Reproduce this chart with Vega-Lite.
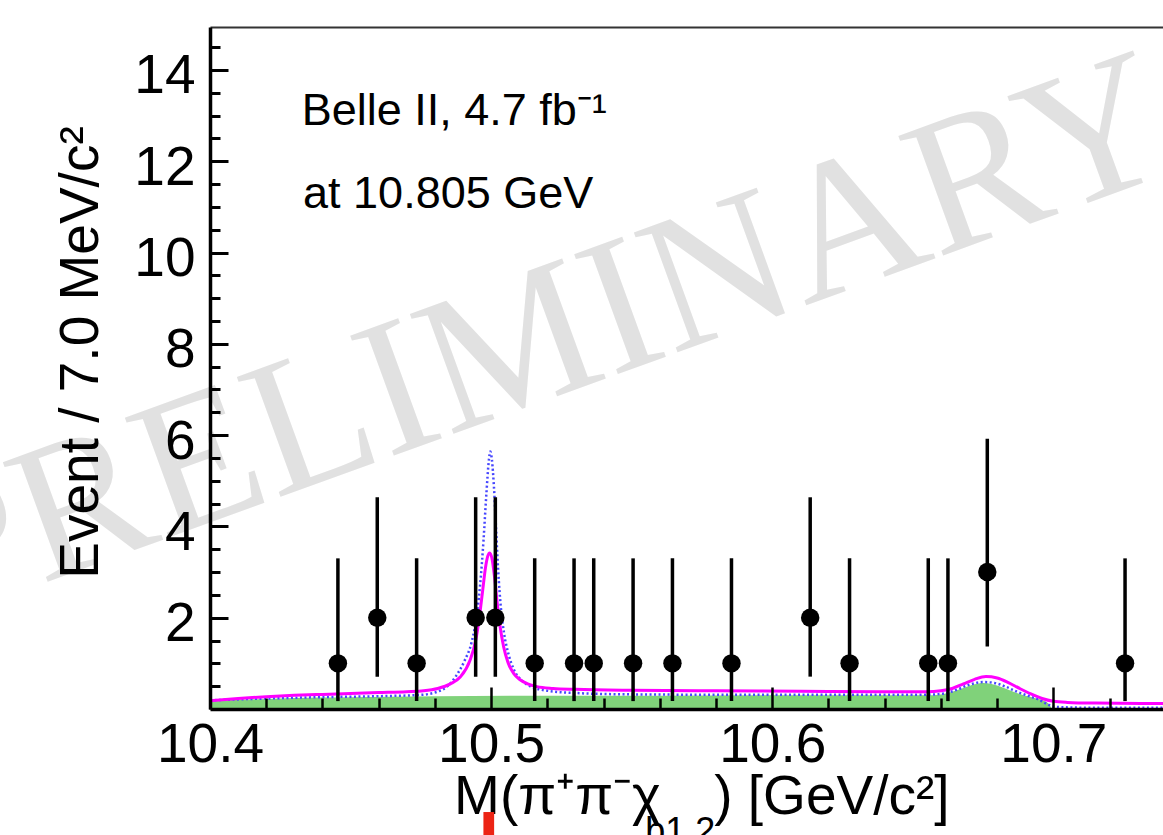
{
  "$schema": "https://vega.github.io/schema/vega-lite/v6.json",
  "width": 953,
  "height": 682,
  "autosize": {"type": "none"},
  "padding": {"left": 210, "top": 27, "right": 0, "bottom": 126},
  "background": "white",
  "config": {"view": {"stroke": null}, "font": "Liberation Sans"},
  "datasets": {
    "points": [
      {"m": 10.4455, "n": 1, "lo": 0.173, "hi": 3.300},
      {"m": 10.4595, "n": 2, "lo": 0.709, "hi": 4.638},
      {"m": 10.4735, "n": 1, "lo": 0.173, "hi": 3.300},
      {"m": 10.4945, "n": 2, "lo": 0.709, "hi": 4.638},
      {"m": 10.5015, "n": 2, "lo": 0.709, "hi": 4.638},
      {"m": 10.5155, "n": 1, "lo": 0.173, "hi": 3.300},
      {"m": 10.5295, "n": 1, "lo": 0.173, "hi": 3.300},
      {"m": 10.5365, "n": 1, "lo": 0.173, "hi": 3.300},
      {"m": 10.5505, "n": 1, "lo": 0.173, "hi": 3.300},
      {"m": 10.5645, "n": 1, "lo": 0.173, "hi": 3.300},
      {"m": 10.5855, "n": 1, "lo": 0.173, "hi": 3.300},
      {"m": 10.6135, "n": 2, "lo": 0.709, "hi": 4.638},
      {"m": 10.6275, "n": 1, "lo": 0.173, "hi": 3.300},
      {"m": 10.6555, "n": 1, "lo": 0.173, "hi": 3.300},
      {"m": 10.6625, "n": 1, "lo": 0.173, "hi": 3.300},
      {"m": 10.6765, "n": 3, "lo": 1.367, "hi": 5.918},
      {"m": 10.7255, "n": 1, "lo": 0.173, "hi": 3.300}
    ],
    "bkg": [
      {"m": 10.400, "v": 0.18}, {"m": 10.410, "v": 0.20}, {"m": 10.420, "v": 0.22},
      {"m": 10.430, "v": 0.24}, {"m": 10.440, "v": 0.25}, {"m": 10.450, "v": 0.26},
      {"m": 10.465, "v": 0.27}, {"m": 10.480, "v": 0.28}, {"m": 10.520, "v": 0.29},
      {"m": 10.560, "v": 0.29}, {"m": 10.600, "v": 0.30}, {"m": 10.640, "v": 0.30},
      {"m": 10.655, "v": 0.30}, {"m": 10.660, "v": 0.32}, {"m": 10.664, "v": 0.38},
      {"m": 10.668, "v": 0.46}, {"m": 10.672, "v": 0.54}, {"m": 10.675, "v": 0.57},
      {"m": 10.678, "v": 0.55}, {"m": 10.682, "v": 0.47}, {"m": 10.686, "v": 0.37},
      {"m": 10.690, "v": 0.29}, {"m": 10.694, "v": 0.23}, {"m": 10.697, "v": 0.17},
      {"m": 10.6985, "v": 0.10}, {"m": 10.6995, "v": 0.0}
    ],
    "alt": [
      {"m": 10.400, "v": 0.19}, {"m": 10.420, "v": 0.23}, {"m": 10.440, "v": 0.26},
      {"m": 10.460, "v": 0.28}, {"m": 10.475, "v": 0.31}, {"m": 10.481, "v": 0.38},
      {"m": 10.4845, "v": 0.50}, {"m": 10.4875, "v": 0.72}, {"m": 10.4905, "v": 1.05},
      {"m": 10.4930, "v": 1.45}, {"m": 10.4950, "v": 2.10}, {"m": 10.4962, "v": 2.80},
      {"m": 10.4973, "v": 3.70}, {"m": 10.4983, "v": 4.70}, {"m": 10.4992, "v": 5.45},
      {"m": 10.4997, "v": 5.64}, {"m": 10.5003, "v": 5.45}, {"m": 10.5010, "v": 4.87},
      {"m": 10.5018, "v": 3.90}, {"m": 10.5025, "v": 3.05}, {"m": 10.5035, "v": 2.20},
      {"m": 10.5046, "v": 1.66}, {"m": 10.5062, "v": 1.20}, {"m": 10.5082, "v": 0.85},
      {"m": 10.5110, "v": 0.62}, {"m": 10.5142, "v": 0.49}, {"m": 10.5200, "v": 0.40},
      {"m": 10.530, "v": 0.35}, {"m": 10.550, "v": 0.32}, {"m": 10.600, "v": 0.31},
      {"m": 10.650, "v": 0.31}, {"m": 10.658, "v": 0.32}, {"m": 10.662, "v": 0.35},
      {"m": 10.666, "v": 0.43}, {"m": 10.670, "v": 0.53}, {"m": 10.675, "v": 0.59},
      {"m": 10.679, "v": 0.57}, {"m": 10.683, "v": 0.49}, {"m": 10.687, "v": 0.38},
      {"m": 10.691, "v": 0.29}, {"m": 10.695, "v": 0.20}, {"m": 10.698, "v": 0.10},
      {"m": 10.700, "v": 0.05}, {"m": 10.710, "v": 0.03}, {"m": 10.739, "v": 0.03}
    ],
    "total": [
      {"m": 10.400, "v": 0.18}, {"m": 10.410, "v": 0.23}, {"m": 10.420, "v": 0.27},
      {"m": 10.430, "v": 0.30}, {"m": 10.440, "v": 0.32}, {"m": 10.450, "v": 0.34},
      {"m": 10.460, "v": 0.36}, {"m": 10.470, "v": 0.38}, {"m": 10.476, "v": 0.40},
      {"m": 10.481, "v": 0.45}, {"m": 10.4855, "v": 0.55}, {"m": 10.4890, "v": 0.70},
      {"m": 10.4925, "v": 1.07}, {"m": 10.4945, "v": 1.50}, {"m": 10.4958, "v": 2.00},
      {"m": 10.4970, "v": 2.60}, {"m": 10.4980, "v": 3.10}, {"m": 10.4988, "v": 3.35},
      {"m": 10.4995, "v": 3.42}, {"m": 10.5003, "v": 3.30}, {"m": 10.5012, "v": 2.90},
      {"m": 10.5022, "v": 2.30}, {"m": 10.5032, "v": 1.80}, {"m": 10.5045, "v": 1.35},
      {"m": 10.5060, "v": 1.02}, {"m": 10.5080, "v": 0.78}, {"m": 10.5103, "v": 0.64},
      {"m": 10.5130, "v": 0.55}, {"m": 10.5163, "v": 0.49}, {"m": 10.522, "v": 0.45},
      {"m": 10.530, "v": 0.43}, {"m": 10.550, "v": 0.41}, {"m": 10.580, "v": 0.40},
      {"m": 10.610, "v": 0.39}, {"m": 10.640, "v": 0.38}, {"m": 10.655, "v": 0.38},
      {"m": 10.660, "v": 0.40}, {"m": 10.664, "v": 0.45}, {"m": 10.668, "v": 0.55},
      {"m": 10.672, "v": 0.65}, {"m": 10.676, "v": 0.71}, {"m": 10.680, "v": 0.68},
      {"m": 10.684, "v": 0.58}, {"m": 10.688, "v": 0.45}, {"m": 10.692, "v": 0.33},
      {"m": 10.696, "v": 0.23}, {"m": 10.700, "v": 0.17}, {"m": 10.705, "v": 0.145},
      {"m": 10.715, "v": 0.13}, {"m": 10.739, "v": 0.12}
    ]
  },
  "resolve": {"axis": {"x": "independent", "y": "independent"}},
  "layer": [
    {
      "data": {"values": [{}]},
      "mark": {"type": "text", "text": "PRELIMINARY", "font": "Liberation Serif", "fontSize": 195, "color": "#e1e1e1", "angle": -20, "align": "center", "baseline": "alphabetic"},
      "encoding": {
        "x": {"datum": 10.5246, "type": "quantitative", "scale": {"domain": [10.4, 10.739], "nice": false, "zero": false}, "axis": null},
        "y": {"datum": 6.88, "type": "quantitative", "scale": {"domain": [0, 14.94], "nice": false, "zero": false}, "axis": null}
      }
    },
    {
      "data": {"name": "bkg"},
      "mark": {"type": "area", "color": "#80d27a", "interpolate": "monotone"},
      "encoding": {
        "x": {"field": "m", "type": "quantitative", "scale": {"domain": [10.4, 10.739], "nice": false, "zero": false},
          "axis": {"orient": "bottom", "values": [10.4, 10.5, 10.6, 10.7], "format": ".1f", "ticks": false, "domain": true, "domainColor": "black", "domainWidth": 3.5, "labelFont": "Liberation Sans", "labelFontSize": 55, "labelColor": "black", "labelPadding": 9, "labelFlush": false, "labelOverlap": false, "labelBound": false, "title": null, "grid": false, "zindex": 1}},
        "y": {"field": "v", "type": "quantitative", "stack": null, "scale": {"domain": [0, 14.94], "nice": false, "zero": false},
          "axis": {"orient": "left", "values": [2, 4, 6, 8, 10, 12, 14], "format": "d", "ticks": false, "domain": true, "domainColor": "black", "domainWidth": 3.5, "labelFont": "Liberation Sans", "labelFontSize": 55, "labelColor": "black", "labelPadding": 15, "labelBaseline": "middle", "labelOffset": 6, "labelOverlap": false, "labelFlush": false, "grid": false, "zindex": 1,
            "title": "Event / 7.0 MeV/c²", "titleFont": "Liberation Sans", "titleFontSize": 55, "titleFontWeight": "normal", "titleColor": "black", "titleAngle": -90, "titleX": -113, "titleY": 325, "titleAlign": "center", "titleBaseline": "alphabetic"}}
      }
    },
    {
      "data": {"name": "alt"},
      "mark": {"type": "line", "color": "#4646ff", "strokeWidth": 2.5, "strokeDash": [2, 2.5], "interpolate": "monotone"},
      "encoding": {
        "x": {"field": "m", "type": "quantitative", "scale": {"domain": [10.4, 10.739], "nice": false, "zero": false},
          "axis": {"orient": "bottom", "values": [10.4, 10.5, 10.6, 10.7], "labels": false, "domain": false, "ticks": true, "tickSize": -22, "tickWidth": 2.5, "tickColor": "black", "title": null, "grid": false, "zindex": 1}},
        "y": {"field": "v", "type": "quantitative", "scale": {"domain": [0, 14.94], "nice": false, "zero": false},
          "axis": {"orient": "left", "values": [2, 4, 6, 8, 10, 12, 14], "labels": false, "domain": false, "ticks": true, "tickSize": -18, "tickWidth": 3, "tickColor": "black", "title": null, "grid": false, "zindex": 1}}
      }
    },
    {
      "data": {"name": "total"},
      "mark": {"type": "line", "color": "#ff00ff", "strokeWidth": 3, "interpolate": "monotone"},
      "encoding": {
        "x": {"field": "m", "type": "quantitative", "scale": {"domain": [10.4, 10.739], "nice": false, "zero": false},
          "axis": {"orient": "bottom", "values": [10.42, 10.44, 10.46, 10.48, 10.52, 10.54, 10.56, 10.58, 10.62, 10.64, 10.66, 10.68, 10.72], "labels": false, "domain": false, "ticks": true, "tickSize": -11, "tickWidth": 2.5, "tickColor": "black", "title": null, "grid": false, "zindex": 1}},
        "y": {"field": "v", "type": "quantitative", "scale": {"domain": [0, 14.94], "nice": false, "zero": false},
          "axis": {"orient": "left", "values": [0.5, 1, 1.5, 2.5, 3, 3.5, 4.5, 5, 5.5, 6.5, 7, 7.5, 8.5, 9, 9.5, 10.5, 11, 11.5, 12.5, 13, 13.5, 14.5], "labels": false, "domain": false, "ticks": true, "tickSize": -10, "tickWidth": 3, "tickColor": "black", "title": null, "grid": false, "zindex": 1}}
      }
    },
    {
      "data": {"name": "points"},
      "mark": {"type": "rule", "color": "black", "strokeWidth": 3.5},
      "encoding": {
        "x": {"field": "m", "type": "quantitative", "scale": {"domain": [10.4, 10.739], "nice": false, "zero": false},
          "axis": {"orient": "top", "domain": true, "domainColor": "#333333", "domainWidth": 2, "ticks": false, "labels": false, "title": null, "grid": false, "zindex": 1}},
        "y": {"field": "lo", "type": "quantitative", "scale": {"domain": [0, 14.94], "nice": false, "zero": false}, "axis": null},
        "y2": {"field": "hi"}
      }
    },
    {
      "data": {"name": "points"},
      "mark": {"type": "point", "shape": "circle", "filled": true, "size": 340, "color": "black", "opacity": 1},
      "encoding": {
        "x": {"field": "m", "type": "quantitative", "scale": {"domain": [10.4, 10.739], "nice": false, "zero": false}, "axis": null},
        "y": {"field": "n", "type": "quantitative", "scale": {"domain": [0, 14.94], "nice": false, "zero": false}, "axis": null}
      }
    },
    {
      "data": {"values": [{}]},
      "mark": {"type": "text", "text": "Belle II, 4.7 fb⁻¹", "font": "Liberation Sans", "fontSize": 45, "color": "black", "align": "left", "baseline": "alphabetic"},
      "encoding": {
        "x": {"datum": 10.4326, "type": "quantitative", "axis": null},
        "y": {"datum": 12.796, "type": "quantitative", "axis": null}
      }
    },
    {
      "data": {"values": [{}]},
      "mark": {"type": "text", "text": "at 10.805 GeV", "font": "Liberation Sans", "fontSize": 45, "color": "black", "align": "left", "baseline": "alphabetic"},
      "encoding": {
        "x": {"datum": 10.4331, "type": "quantitative", "axis": null},
        "y": {"datum": 10.970, "type": "quantitative", "axis": null}
      }
    },
    {
      "data": {"values": [{}]},
      "mark": {"type": "text", "text": "M(π⁺π⁻χ", "font": "Liberation Sans", "fontSize": 55, "color": "black", "align": "left", "baseline": "alphabetic"},
      "encoding": {
        "x": {"datum": 10.48683, "type": "quantitative", "axis": null},
        "y": {"datum": -2.292, "type": "quantitative", "axis": null}
      }
    },
    {
      "data": {"values": [{}]},
      "mark": {"type": "text", "text": "b1,2", "font": "Liberation Sans", "fontSize": 36, "color": "black", "align": "left", "baseline": "alphabetic"},
      "encoding": {
        "x": {"datum": 10.5548, "type": "quantitative", "axis": null},
        "y": {"datum": -2.936, "type": "quantitative", "axis": null}
      }
    },
    {
      "data": {"values": [{}]},
      "mark": {"type": "text", "text": ") [GeV/c²]", "font": "Liberation Sans", "fontSize": 55, "color": "black", "align": "left", "baseline": "alphabetic"},
      "encoding": {
        "x": {"datum": 10.57936, "type": "quantitative", "axis": null},
        "y": {"datum": -2.292, "type": "quantitative", "axis": null}
      }
    },
    {
      "data": {"values": [{}]},
      "mark": {"type": "rect", "color": "#ec2414"},
      "encoding": {
        "x": {"datum": 10.49726, "type": "quantitative", "axis": null},
        "x2": {"datum": 10.50107},
        "y": {"datum": -2.257, "type": "quantitative", "axis": null},
        "y2": {"datum": -2.9}
      }
    }
  ]
}
